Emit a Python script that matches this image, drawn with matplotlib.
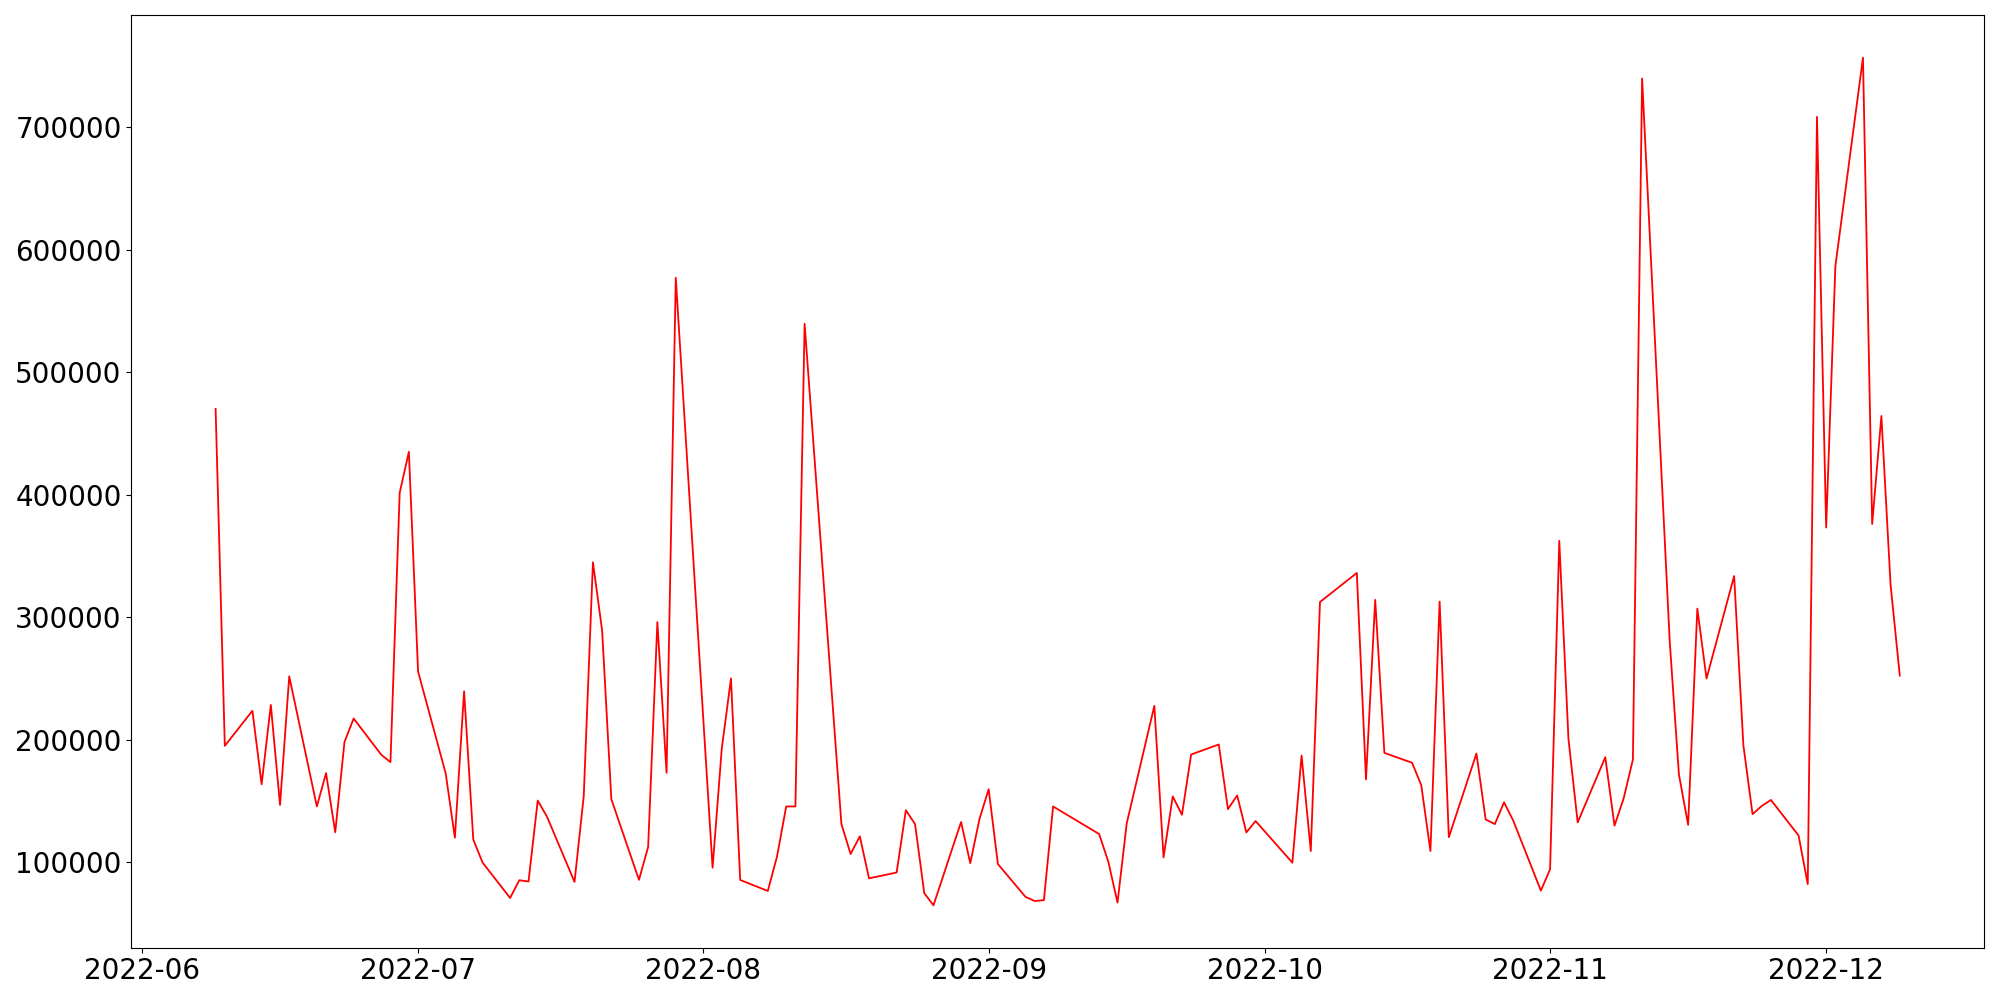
import pandas as pd
import matplotlib
matplotlib.use("Agg")
import matplotlib.pyplot as plt

dates = [
    "2022-06-09", "2022-06-10", "2022-06-13", "2022-06-14", "2022-06-15", "2022-06-16", "2022-06-17",
    "2022-06-20", "2022-06-21", "2022-06-22", "2022-06-23", "2022-06-24",
    "2022-06-27", "2022-06-28", "2022-06-29", "2022-06-30", "2022-07-01",
    "2022-07-04", "2022-07-05", "2022-07-06", "2022-07-07", "2022-07-08",
    "2022-07-11", "2022-07-12", "2022-07-13", "2022-07-14", "2022-07-15",
    "2022-07-18", "2022-07-19", "2022-07-20", "2022-07-21", "2022-07-22",
    "2022-07-25", "2022-07-26", "2022-07-27", "2022-07-28", "2022-07-29",
    "2022-08-02", "2022-08-03", "2022-08-04", "2022-08-05",
    "2022-08-08", "2022-08-09", "2022-08-10", "2022-08-11", "2022-08-12",
    "2022-08-16", "2022-08-17", "2022-08-18", "2022-08-19",
    "2022-08-22", "2022-08-23", "2022-08-24", "2022-08-25", "2022-08-26",
    "2022-08-29", "2022-08-30", "2022-08-31", "2022-09-01", "2022-09-02",
    "2022-09-05", "2022-09-06", "2022-09-07", "2022-09-08",
    "2022-09-13", "2022-09-14", "2022-09-15", "2022-09-16",
    "2022-09-19", "2022-09-20", "2022-09-21", "2022-09-22", "2022-09-23",
    "2022-09-26", "2022-09-27", "2022-09-28", "2022-09-29", "2022-09-30",
    "2022-10-04", "2022-10-05", "2022-10-06", "2022-10-07",
    "2022-10-11", "2022-10-12", "2022-10-13", "2022-10-14",
    "2022-10-17", "2022-10-18", "2022-10-19", "2022-10-20", "2022-10-21",
    "2022-10-24", "2022-10-25", "2022-10-26", "2022-10-27", "2022-10-28",
    "2022-10-31", "2022-11-01", "2022-11-02", "2022-11-03", "2022-11-04",
    "2022-11-07", "2022-11-08", "2022-11-09", "2022-11-10", "2022-11-11",
    "2022-11-14", "2022-11-15", "2022-11-16", "2022-11-17", "2022-11-18",
    "2022-11-21", "2022-11-22", "2022-11-23", "2022-11-24", "2022-11-25",
    "2022-11-28", "2022-11-29", "2022-11-30", "2022-12-01", "2022-12-02",
    "2022-12-05", "2022-12-06", "2022-12-07", "2022-12-08", "2022-12-09",
]

volume = [
    470000, 195000, 223600, 163600, 228400, 146700, 251700,
    145500, 172700, 124400, 198000, 217300,
    187700, 181700, 401500, 435000, 255600,
    172500, 120000, 239500, 118500, 99800,
    70800, 85300, 84200, 150300, 137300,
    83900, 153900, 344800, 289000, 151400,
    85600, 112500, 296000, 173000, 577000,
    95500, 192800, 250000, 85500,
    76500, 104600, 145500, 145500, 539500,
    131100, 106700, 121100, 86800,
    91600, 142400, 131100, 74800, 64800,
    132800, 99200, 135200, 159600, 98500,
    71700, 68300, 69000, 145500,
    123000, 100400, 67000, 131700,
    227600, 103900, 153700, 138700, 187900,
    196100, 143300, 154500, 124300, 133600,
    99600, 187100, 109100, 312400,
    336100, 167600, 314100, 189200,
    181200, 163000, 109100, 312700, 120400,
    188700, 134900, 131100, 148900, 133900,
    76800, 94200, 362300, 200400, 132500,
    185700, 129800, 152200, 183800, 739700,
    280400, 171600, 130500, 307000, 249900,
    333600, 195800, 139200, 145900, 150800,
    121800, 82100, 708400, 373200, 586500,
    756700, 376100, 464200, 326300, 252300,
]

x = pd.to_datetime(dates)

fig = plt.figure(figsize=(20, 10), dpi=100)
ax = fig.add_axes([0.0657, 0.0523, 0.9263, 0.9324])
ax.plot(x, volume, color="red", linewidth=1.3)
ax.tick_params(labelsize=20)

fig.savefig("out.png")
